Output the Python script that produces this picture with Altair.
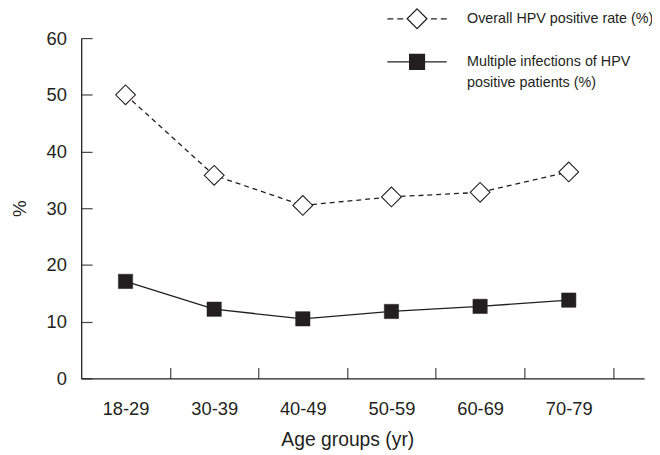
import json
import altair as alt
import pandas as pd

# ---- data ----
ages = ["18-29", "30-39", "40-49", "50-59", "60-69", "70-79"]
overall_rate = [50.0, 35.8, 30.5, 32.0, 32.8, 36.4]
multiple_rate = [17.1, 12.2, 10.5, 11.8, 12.7, 13.8]
series_keys = ["overall", "multiple"]
series_labels = [
    ["Overall HPV positive rate (%)"],
    ["Multiple infections of HPV", "positive patients (%)"],
]
y_ticks = [0, 10, 20, 30, 40, 50, 60]

INK = "#231f20"
TICK = "#444444"
FONT = "Liberation Sans Narrow, Arial Narrow, Liberation Sans, Arial, sans-serif"

rows = []
for i, a in enumerate(ages):
    rows.append({"age": a, "idx": i, "series": "overall", "value": overall_rate[i]})
    rows.append({"age": a, "idx": i, "series": "multiple", "value": multiple_rate[i]})
df = pd.DataFrame(rows)
legend_df = pd.DataFrame({"series": series_keys})

boundaries = [i + 0.5 for i in range(len(ages))]
label_expr = json.dumps(ages) + "[floor(datum.value)]"
legend_expr = ("datum.label == 'overall' ? " + json.dumps(series_labels[0])
               + " : " + json.dumps(series_labels[1]))

# legend symbols: line + marker drawn as one custom path (unit = 10 px)
path_overall = ("M-3,0H-2.4M-2,0H-1.4M1.4,0H2M2.4,0H3"
                "M0,-1L1,0L0,1L-1,0Z")
path_multiple = "M-3,0H-0.75M0.75,0H3M-0.75,-0.75H0.75V0.75H-0.75Z"

x_enc = alt.X(
    "idx:Q",
    scale=alt.Scale(domain=[-0.5, 5.85], nice=False, zero=False),
    axis=alt.Axis(
        values=boundaries,
        grid=True,
        gridDash=[0, 333, 11, 1000],
        gridColor=TICK,
        gridWidth=1.2,
        gridOpacity=1,
        ticks=False,
        labelExpr=label_expr,
        labelOffset=-44.8,
        labelPadding=21,
        labelFlush=False,
        labelOverlap=False,
        labelFont=FONT,
        labelFontSize=18.5,
        labelColor=INK,
        domainColor=INK,
        domainWidth=1.3,
        title="Age groups (yr)",
        titleFont=FONT,
        titleFontSize=19.5,
        titleFontWeight="normal",
        titleColor=INK,
        titleX=269,
        titleY=68,
        titleAlign="center",
        titleBaseline="alphabetic",
    ),
)

y_enc = alt.Y(
    "value:Q",
    scale=alt.Scale(domain=[0, 60], nice=False),
    axis=alt.Axis(
        values=y_ticks,
        grid=True,
        gridDash=[11, 2000],
        gridColor=TICK,
        gridWidth=1.2,
        gridOpacity=1,
        ticks=False,
        labelPadding=15,
        labelFont=FONT,
        labelFontSize=18.5,
        labelColor=INK,
        domainColor=INK,
        domainWidth=1.3,
        title="%",
        titleFont=FONT,
        titleFontSize=19,
        titleFontWeight="normal",
        titleColor=INK,
        titleAngle=270,
        titleX=-62,
        titleY=172,
        titleAlign="center",
        titleBaseline="middle",
    ),
)

base = alt.Chart(df).encode(x=x_enc, y=y_enc)

line_overall = base.transform_filter(alt.datum.series == "overall").mark_line(
    stroke=INK, strokeWidth=1.3, strokeDash=[5, 4]
)
line_multiple = base.transform_filter(alt.datum.series == "multiple").mark_line(
    stroke=INK, strokeWidth=1.3
)

diamonds = base.transform_filter(alt.datum.series == "overall").mark_point(
    shape="diamond", filled=True, fill="white", stroke=INK, strokeWidth=1.1,
    size=400, opacity=1,
)

squares = base.transform_filter(alt.datum.series == "multiple").mark_point(
    shape="square", filled=True, fill=INK, stroke=INK, strokeWidth=0.5,
    size=210, opacity=1,
)

legend_props = dict(
    orient="none",
    legendX=328.5,
    legendY=-30.5,
    title=None,
    padding=0,
    rowPadding=19.5,
    labelExpr=legend_expr,
    labelFont=FONT,
    labelFontSize=14.5,
    labelColor=INK,
    labelOffset=39.5,
    labelLimit=500,
    labelBaseline="middle",
    symbolSize=400,
    symbolStrokeColor=INK,
    symbolStrokeWidth=1.3,
    symbolOpacity=1,
)

legend_layer = alt.Chart(legend_df).mark_point(
    filled=True, size=400, strokeWidth=1.3, opacity=0
).encode(
    shape=alt.Shape(
        "series:N",
        scale=alt.Scale(domain=series_keys, range=[path_overall, path_multiple]),
        legend=alt.Legend(**legend_props),
    ),
    fill=alt.Fill(
        "series:N",
        scale=alt.Scale(domain=series_keys, range=["white", INK]),
        legend=alt.Legend(**legend_props),
    ),
    stroke=alt.Stroke(
        "series:N",
        scale=alt.Scale(domain=series_keys, range=[INK, INK]),
        legend=alt.Legend(**legend_props),
    ),
)

chart = (
    alt.layer(line_overall, line_multiple, diamonds, squares, legend_layer)
    .properties(
        width=569,
        height=344,
        padding={"left": 74, "top": 28, "right": 8, "bottom": 73},
        autosize=alt.AutoSizeParams(type="none"),
        background="white",
    )
    .configure(style={"guide-label": {"lineHeight": 21}})
    .configure_view(strokeWidth=0)
)

chart.save("out.html", embed_options={"renderer": "svg", "actions": False})
